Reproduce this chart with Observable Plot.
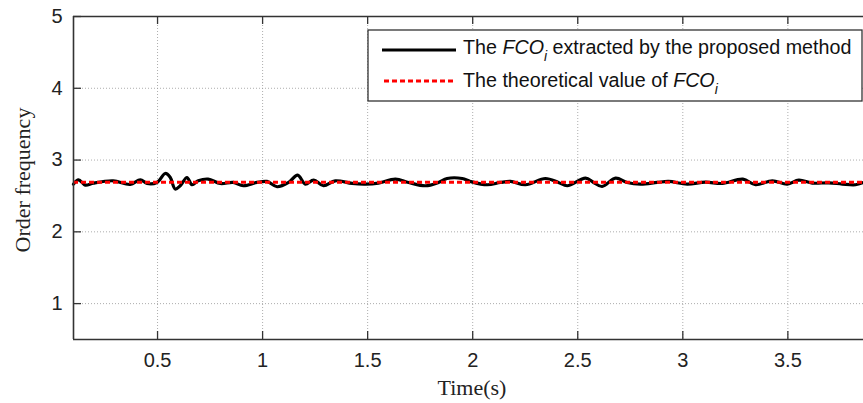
<!DOCTYPE html>
<html><head><meta charset="utf-8">
<script src="https://cdn.jsdelivr.net/npm/d3@7"></script>
<script src="https://cdn.jsdelivr.net/npm/@observablehq/plot@0.6"></script>
<style>html,body{margin:0;padding:0;background:#fff;} #chart{width:863px;height:403px;}</style>
</head><body><div id="chart"></div>
<script>
const time = [0.100,0.124,0.156,0.195,0.289,0.370,0.418,0.450,0.497,0.537,0.560,0.584,0.608,0.640,0.664,0.694,0.741,0.799,0.860,0.908,0.973,1.021,1.069,1.124,1.167,1.203,1.243,1.290,1.346,1.426,1.489,1.551,1.632,1.695,1.775,1.837,1.878,1.950,1.989,2.069,2.132,2.180,2.251,2.346,2.408,2.450,2.537,2.575,2.616,2.680,2.735,2.799,2.878,2.932,3.021,3.108,3.188,3.286,3.346,3.426,3.497,3.552,3.616,3.695,3.759,3.822,3.860];
const freq = [2.665,2.725,2.651,2.679,2.711,2.660,2.725,2.674,2.688,2.813,2.760,2.596,2.642,2.757,2.656,2.711,2.735,2.674,2.688,2.642,2.688,2.702,2.628,2.688,2.791,2.665,2.721,2.642,2.711,2.674,2.665,2.679,2.735,2.688,2.642,2.688,2.743,2.743,2.702,2.656,2.688,2.702,2.656,2.743,2.688,2.642,2.749,2.688,2.632,2.749,2.688,2.665,2.688,2.702,2.665,2.693,2.674,2.735,2.656,2.711,2.665,2.721,2.679,2.683,2.665,2.656,2.688];
const theoretical = [2.69];
const xTicks = [0.5, 1, 1.5, 2, 2.5, 3, 3.5];
const yTicks = [1, 2, 3, 4, 5];
const xDomain = [0.1, 3.86];
const yDomain = [0.5, 5];
const xLabel = "Time(s)";
const yLabel = "Order frequency";

const data = time.map((t, i) => ({t, v: freq[i]}));
const axisColor = "#333";
const gridStyle = {stroke: "#999", strokeOpacity: 0.8, strokeDasharray: "1,2", strokeWidth: 1};

const plot = Plot.plot({
  width: 863, height: 403,
  marginLeft: 73, marginRight: 0, marginTop: 16, marginBottom: 64,
  style: {fontFamily: "'Liberation Sans', Arial, sans-serif", fontSize: "20px", color: "#222", background: "#fff", overflow: "visible"},
  x: {domain: xDomain, label: null},
  y: {domain: yDomain, label: null},
  marks: [
    Plot.gridX(xTicks, gridStyle),
    Plot.gridY(yTicks.filter(d => d < yDomain[1]), gridStyle),
    Plot.axisX(xTicks, {tickSize: 0, tickPadding: 13, fontSize: 20, label: null, tickFormat: d => String(d)}),
    Plot.axisY(yTicks, {tickSize: 0, tickPadding: 11, fontSize: 20, label: null, tickFormat: d => String(d)}),
    Plot.line(data, {x: "t", y: "v", stroke: "#000", strokeWidth: 3.2, curve: "catmull-rom"}),
    Plot.ruleY(theoretical, {stroke: "#ff0000", strokeWidth: 3, strokeDasharray: "5,3"}),
    Plot.ruleX(xTicks, {y1: yDomain[0], y2: yDomain[0], insetTop: -8, stroke: axisColor, strokeWidth: 1.3}),
    Plot.ruleX(xTicks, {y1: yDomain[1], y2: yDomain[1], insetBottom: -8, stroke: axisColor, strokeWidth: 1.3}),
    Plot.ruleY(yTicks, {x1: xDomain[0], x2: xDomain[0], insetRight: -8, stroke: axisColor, strokeWidth: 1.3}),
    Plot.ruleY(yDomain, {stroke: axisColor, strokeWidth: 1.6}),
    Plot.ruleX([xDomain[0]], {stroke: axisColor, strokeWidth: 1.6})
  ]
});

const svg = d3.select(plot);
// axis titles
svg.append("text")
  .attr("x", 472).attr("y", 395)
  .attr("text-anchor", "middle")
  .attr("font-family", "'Liberation Serif', 'Times New Roman', serif")
  .attr("font-size", 22).attr("fill", "#222")
  .text(xLabel);
svg.append("text")
  .attr("transform", "translate(30,180) rotate(-90)")
  .attr("text-anchor", "middle")
  .attr("font-family", "'Liberation Serif', 'Times New Roman', serif")
  .attr("font-size", 22).attr("fill", "#222")
  .text(yLabel);

// legend
const lg = svg.append("g").attr("font-family", "'Liberation Sans', Arial, sans-serif").attr("font-size", 19.7).attr("fill", "#111").attr("text-anchor", "start");
lg.append("rect").attr("x", 368).attr("y", 30).attr("width", 494).attr("height", 71)
  .attr("fill", "#fff").attr("stroke", axisColor).attr("stroke-width", 1.3);
lg.append("line").attr("x1", 382).attr("x2", 456).attr("y1", 50).attr("y2", 50)
  .attr("stroke", "#000").attr("stroke-width", 3);
lg.append("line").attr("x1", 384).attr("x2", 456).attr("y1", 81).attr("y2", 81)
  .attr("stroke", "#ff0000").attr("stroke-width", 3).attr("stroke-dasharray", "5,3");

function legendText(y, before, after) {
  const t = lg.append("text").attr("x", 463).attr("y", y).attr("text-anchor", "start");
  t.append("tspan").text(before);
  t.append("tspan").attr("font-style", "italic").text("FCO");
  t.append("tspan").attr("font-style", "italic").attr("font-size", 14).attr("dy", 7).text("i");
  if (after) t.append("tspan").attr("dy", -7).text(after);
}
legendText(54, "The ", " extracted by the proposed method");
legendText(87, "The theoretical value of ", "");

document.getElementById("chart").appendChild(plot);
</script>
</body></html>
